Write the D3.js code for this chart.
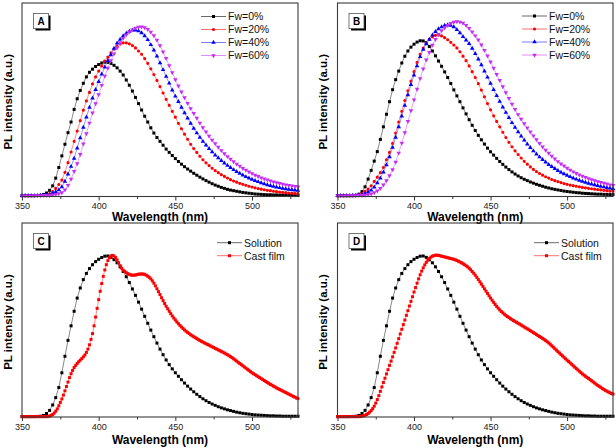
<!DOCTYPE html>
<html><head><meta charset="utf-8">
<script src="https://cdn.jsdelivr.net/npm/d3@7"></script>
<style>body{margin:0;background:#fff}svg{display:block}text{font-family:Arial,"Liberation Sans",sans-serif}</style>
</head><body><svg id="c" width="616" height="448"></svg>
<script>
// ---------- data ----------
const wlStart = 350, wlEnd = 530;
const stepCoarse = 2;   // nm, solution-type curves
const stepFine = 1;     // nm, cast film curves
const xTicks = [350, 400, 450, 500];
const xMinorTicks = [375, 425, 475, 525];
const fwLabels = ["Fw=0%", "Fw=20%", "Fw=40%", "Fw=60%"];
const filmLabels = ["Solution", "Cast film"];
const panelLetters = ["A", "B", "C", "D"];

const A_fw0 = [.004,.004,.004,.004,.004,.005,.006,.010,.018,.032,
 .055,.095,.150,.210,.270,.330,.385,.450,.505,.548,
 .585,.618,.642,.658,.672,.682,.690,.694,.693,.688,
 .678,.665,.648,.628,.602,.575,.545,.512,.480,.447,
 .415,.385,.355,.328,.305,.285,.265,.245,.228,.212,
 .196,.181,.167,.154,.142,.131,.120,.110,.100,.091,
 .082,.074,.066,.059,.053,.047,.042,.037,.033,.030,
 .027,.024,.021,.019,.017,.015,.013,.012,.011,.010,
 .009,.009,.008,.008,.007,.007,.006,.006,.006,.005,.005];
const A_fw20 = [.004,.004,.004,.004,.005,.005,.006,.006,.008,.014,
 .025,.042,.062,.085,.125,.175,.230,.285,.338,.392,
 .446,.494,.538,.582,.618,.648,.675,.700,.720,.742,
 .762,.777,.788,.794,.794,.789,.780,.768,.752,.735,
 .713,.688,.660,.630,.600,.568,.535,.502,.471,.440,
 .410,.378,.350,.322,.296,.270,.248,.228,.208,.190,
 .174,.160,.146,.134,.123,.113,.104,.095,.087,.080,
 .074,.068,.063,.058,.053,.049,.045,.041,.038,.035,
 .032,.030,.027,.025,.023,.021,.020,.018,.017,.016,.015];
const A_fw40 = [.004,.004,.004,.004,.005,.005,.006,.007,.008,.010,
 .016,.024,.034,.050,.078,.115,.155,.197,.250,.303,
 .357,.410,.460,.508,.552,.594,.632,.668,.702,.732,
 .765,.792,.812,.830,.843,.853,.859,.860,.855,.845,
 .830,.810,.784,.756,.725,.690,.655,.620,.585,.550,
 .518,.490,.460,.432,.405,.378,.352,.328,.305,.285,
 .265,.247,.230,.214,.199,.185,.172,.160,.149,.138,
 .128,.119,.110,.102,.095,.088,.082,.076,.070,.065,
 .060,.056,.052,.048,.045,.042,.039,.037,.035,.033,.031];
const A_fw60 = [.004,.004,.004,.004,.005,.005,.005,.006,.006,.006,
 .008,.011,.015,.020,.034,.058,.090,.130,.170,.218,
 .272,.325,.380,.432,.480,.527,.575,.622,.664,.702,
 .738,.768,.795,.818,.836,.851,.862,.871,.876,.877,
 .873,.864,.850,.832,.808,.780,.748,.714,.677,.640,
 .604,.572,.541,.511,.482,.455,.430,.405,.380,.356,
 .334,.312,.292,.273,.255,.238,.222,.207,.193,.180,
 .168,.157,.146,.136,.127,.119,.111,.104,.097,.091,
 .086,.081,.076,.072,.068,.064,.061,.058,.055,.052,.050];

const B_fw0 = [.004,.004,.004,.004,.004,.004,.006,.012,.025,.050,
 .090,.135,.183,.232,.295,.360,.425,.490,.552,.604,
 .648,.690,.725,.752,.772,.787,.798,.805,.804,.795,
 .775,.752,.727,.700,.673,.644,.615,.584,.551,.520,
 .490,.458,.427,.397,.368,.341,.316,.293,.271,.250,
 .231,.214,.197,.181,.166,.152,.139,.127,.116,.106,
 .097,.089,.082,.075,.069,.063,.058,.053,.048,.044,
 .040,.037,.034,.031,.028,.026,.024,.022,.020,.019,
 .017,.016,.015,.014,.013,.012,.012,.011,.011,.010,.010];
const B_fw20 = [.004,.004,.004,.005,.005,.006,.006,.010,.016,.026,
 .038,.055,.078,.100,.123,.150,.190,.228,.275,.328,
 .385,.440,.496,.546,.596,.645,.693,.735,.767,.793,
 .812,.825,.833,.835,.830,.821,.810,.797,.783,.768,
 .748,.725,.702,.675,.645,.615,.583,.550,.515,.480,
 .448,.417,.388,.360,.332,.305,.280,.257,.236,.217,
 .199,.182,.167,.153,.140,.129,.119,.110,.102,.095,
 .088,.082,.077,.072,.067,.063,.059,.056,.053,.050,
 .047,.045,.042,.040,.038,.036,.034,.032,.030,.028,.027];
const B_fw40 = [.004,.004,.004,.005,.005,.006,.006,.007,.010,.015,
 .022,.032,.048,.070,.095,.126,.163,.205,.253,.305,
 .360,.415,.470,.525,.578,.627,.675,.722,.760,.789,
 .812,.834,.852,.866,.876,.884,.887,.884,.876,.862,
 .845,.826,.808,.790,.765,.738,.710,.680,.648,.616,
 .584,.552,.521,.491,.462,.434,.407,.381,.357,.334,
 .312,.291,.271,.252,.235,.219,.204,.190,.177,.165,
 .154,.144,.134,.125,.117,.109,.102,.095,.089,.083,
 .078,.073,.068,.064,.060,.056,.052,.049,.046,.043,.041];
const B_fw60 = [.004,.004,.004,.004,.005,.005,.005,.006,.006,.007,
 .010,.014,.020,.029,.042,.060,.082,.108,.139,.178,
 .225,.276,.330,.388,.444,.500,.555,.610,.660,.706,
 .745,.782,.812,.838,.857,.872,.885,.895,.901,.904,
 .902,.896,.885,.869,.851,.831,.810,.784,.756,.727,
 .696,.664,.631,.600,.568,.537,.507,.478,.450,.424,
 .400,.377,.355,.334,.314,.294,.275,.257,.240,.224,
 .209,.195,.181,.169,.158,.147,.137,.128,.120,.112,
 .105,.099,.093,.087,.082,.077,.073,.069,.065,.061,.058];

const solution = [.002,.002,.002,.002,.002,.003,.004,.008,.018,.034,
 .062,.100,.152,.228,.313,.395,.470,.545,.613,.665,
 .708,.740,.765,.785,.801,.813,.822,.829,.830,.823,
 .811,.795,.774,.750,.723,.693,.660,.627,.592,.556,
 .519,.483,.448,.414,.381,.350,.321,.294,.270,.248,
 .228,.210,.192,.175,.159,.144,.130,.117,.105,.094,
 .084,.075,.067,.060,.053,.047,.042,.037,.033,.029,
 .025,.022,.019,.017,.015,.013,.011,.010,.009,.008,
 .007,.006,.006,.005,.005,.004,.004,.004,.004,.004,.004];

const C_film = [.002,.002,.002,.002,.002,.002,.002,.002,.002,.002,
 .002,.002,.002,.002,.002,.002,.002,.003,.005,.008,
 .013,.020,.030,.042,.058,.075,.093,.113,.135,.157,
 .180,.203,.223,.240,.255,.266,.276,.285,.293,.301,
 .310,.320,.333,.350,.372,.400,.430,.470,.515,.560,
 .605,.648,.688,.725,.758,.785,.806,.821,.830,.833,
 .830,.822,.810,.795,.780,.767,.757,.750,.744,.739,
 .735,.732,.731,.731,.732,.734,.736,.737,.737,.737,
 .735,.731,.726,.720,.712,.702,.690,.676,.661,.646,
 .631,.615,.600,.585,.571,.558,.545,.533,.521,.510,
 .500,.490,.481,.472,.464,.456,.449,.442,.436,.430,
 .424,.419,.414,.409,.404,.399,.395,.390,.386,.382,
 .378,.374,.370,.366,.362,.358,.354,.350,.346,.342,
 .338,.334,.330,.325,.321,.316,.311,.306,.300,.294,
 .288,.282,.276,.270,.264,.258,.252,.246,.240,.234,
 .228,.223,.218,.213,.208,.203,.198,.193,.188,.183,
 .178,.173,.168,.164,.159,.155,.150,.146,.142,.138,
 .134,.130,.126,.122,.118,.114,.110,.106,.102,.098,.095];
const D_film = [.002,.002,.002,.002,.002,.002,.002,.002,.002,.002,
 .002,.002,.002,.002,.002,.003,.004,.006,.009,.013,
 .018,.025,.033,.043,.056,.072,.090,.110,.132,.155,
 .178,.200,.222,.244,.266,.288,.310,.333,.356,.380,
 .404,.428,.452,.476,.500,.524,.548,.572,.596,.620,
 .644,.667,.690,.712,.733,.752,.769,.784,.797,.808,
 .817,.824,.829,.832,.834,.834,.833,.831,.829,.827,
 .825,.823,.821,.819,.817,.815,.813,.810,.807,.803,
 .799,.795,.790,.785,.780,.774,.767,.759,.750,.741,
 .731,.720,.709,.697,.685,.673,.661,.649,.637,.625,
 .613,.602,.591,.580,.570,.561,.552,.544,.537,.530,
 .524,.518,.513,.507,.502,.497,.492,.488,.483,.479,
 .474,.469,.464,.459,.455,.450,.445,.440,.435,.430,
 .425,.420,.415,.410,.405,.400,.394,.388,.382,.375,
 .367,.360,.352,.345,.337,.330,.322,.315,.308,.300,
 .293,.286,.279,.272,.264,.257,.250,.243,.236,.229,
 .222,.216,.210,.204,.199,.193,.187,.181,.175,.169,
 .163,.158,.153,.147,.142,.137,.133,.129,.125,.121,.118];

// ---------- styles ----------
const styles = {
  black:   {line:"#6a6a6a", mark:"#000000", shape:d3.symbolSquare, size:9},
  red:     {line:"#ff7070", mark:"#ff0000", shape:d3.symbolCircle, size:8},
  blue:    {line:"#7b7bff", mark:"#0000ff", shape:d3.symbolTriangle, size:9, rot:0},
  magenta: {line:"#e08cff", mark:"#c62df5", shape:d3.symbolTriangle, size:9, rot:180},
  film:    {line:"#ff7070", mark:"#ff0000", shape:d3.symbolSquare, size:9}
};

function mk(values, step){ return values.map((v,i)=>({x: wlStart + i*step, y: v})); }

const panels = [
  {letter:panelLetters[0], x0:22, x1:298, y0:3, y1:196.5,
   series:[[A_fw0,stepCoarse,"black"],[A_fw20,stepCoarse,"red"],[A_fw40,stepCoarse,"blue"],[A_fw60,stepCoarse,"magenta"]],
   labels:fwLabels, legX:201, legY:16.5, tickBase:208.5, titleBase:221},
  {letter:panelLetters[1], x0:337.5, x1:613, y0:3, y1:196.5,
   series:[[B_fw0,stepCoarse,"black"],[B_fw20,stepCoarse,"red"],[B_fw40,stepCoarse,"blue"],[B_fw60,stepCoarse,"magenta"]],
   labels:fwLabels, legX:522, legY:16, tickBase:208.5, titleBase:221},
  {letter:panelLetters[2], x0:22, x1:298, y0:223, y1:417,
   series:[[solution,stepCoarse,"black"],[C_film,stepFine,"film"]],
   labels:filmLabels, legX:217, legY:242.7, tickBase:429.5, titleBase:443.5},
  {letter:panelLetters[3], x0:337.5, x1:613, y0:223, y1:417,
   series:[[solution,stepCoarse,"black"],[D_film,stepFine,"film"]],
   labels:filmLabels, legX:534, legY:242.7, tickBase:429.5, titleBase:443.5}
];

const svg = d3.select("#c");

function drawMarker(g, st, x, y){
  const sym = d3.symbol().type(st.shape).size(st.size);
  g.append("path").attr("d", sym())
    .attr("transform", `translate(${x},${y})` + (st.rot ? ` rotate(${st.rot})` : ""))
    .attr("fill", st.mark);
}

panels.forEach(p => {
  const g = svg.append("g");
  const x = d3.scaleLinear().domain([wlStart, wlEnd]).range([p.x0, p.x1]);
  const y = d3.scaleLinear().domain([0, 1]).range([p.y1, p.y0]);

  // axis
  const ax = g.append("g").attr("transform", `translate(0,${p.y1})`)
    .call(d3.axisBottom(x).tickValues(xTicks).tickSize(4).tickSizeOuter(0).tickPadding(2).tickFormat(d3.format("d")));
  ax.select(".domain").remove();
  ax.selectAll("line").attr("stroke", "#333");
  ax.selectAll("text").attr("font-size", 9).attr("fill", "#222").attr("dy", null)
    .attr("y", p.tickBase - p.y1);
  const axm = g.append("g").attr("transform", `translate(0,${p.y1})`)
    .call(d3.axisBottom(x).tickValues(xMinorTicks).tickSize(2.5).tickFormat(""));
  axm.select(".domain").remove();
  axm.selectAll("line").attr("stroke", "#333");

  // series
  const line = d3.line().x(d => x(d.x)).y(d => y(d.y));
  p.series.forEach(([vals, step, key]) => {
    const st = styles[key];
    const data = mk(vals, step);
    g.append("path").datum(data).attr("d", line).attr("fill", "none")
      .attr("stroke", st.line).attr("stroke-width", 0.8);
    const sym = d3.symbol().type(st.shape).size(st.size);
    g.selectAll(null).data(data).enter().append("path")
      .attr("d", sym())
      .attr("transform", d => `translate(${x(d.x)},${y(d.y)})` + (st.rot ? ` rotate(${st.rot})` : ""))
      .attr("fill", st.mark);
  });

  // frame
  g.append("rect").attr("x", p.x0).attr("y", p.y0).attr("width", p.x1 - p.x0).attr("height", p.y1 - p.y0)
    .attr("fill", "none").attr("stroke", "#3a3a3a").attr("stroke-width", 1.1);

  // legend
  p.series.forEach(([vals, step, key], i) => {
    const st = styles[key];
    const ly = p.legY + i * 13;
    g.append("line").attr("x1", p.legX).attr("x2", p.legX + 25).attr("y1", ly).attr("y2", ly)
      .attr("stroke", st.line).attr("stroke-width", 1);
    drawMarker(g, st, p.legX + 12.5, ly);
    g.append("text").attr("x", p.legX + 27).attr("y", ly + 3.8).attr("font-size", 10.5).attr("fill", "#111")
      .text(p.labels[i]);
  });

  // panel letter box
  const bx = p.x0 + 11.5, by = p.y0 + 10.5;
  g.append("rect").attr("x", bx + 2).attr("y", by + 2).attr("width", 15).attr("height", 15).attr("fill", "#000");
  g.append("rect").attr("x", bx).attr("y", by).attr("width", 15).attr("height", 15).attr("fill", "#fff")
    .attr("stroke", "#555").attr("stroke-width", 0.8);
  g.append("text").attr("x", bx + 7.5).attr("y", by + 11.3).attr("text-anchor", "middle")
    .attr("font-size", 10).attr("font-weight", "bold").text(p.letter);

  // titles
  g.append("text").attr("x", (p.x0 + p.x1) / 2).attr("y", p.titleBase).attr("text-anchor", "middle")
    .attr("font-size", 12).attr("font-weight", "bold").text("Wavelength (nm)");
  const cy = (p.y0 + p.y1) / 2 + 2;
  g.append("text").attr("transform", `translate(${p.x0 - 10.5},${cy}) rotate(-90)`).attr("text-anchor", "middle")
    .attr("font-size", 11.5).attr("font-weight", "bold").text("PL intensity (a.u.)");
});
</script></body></html>
